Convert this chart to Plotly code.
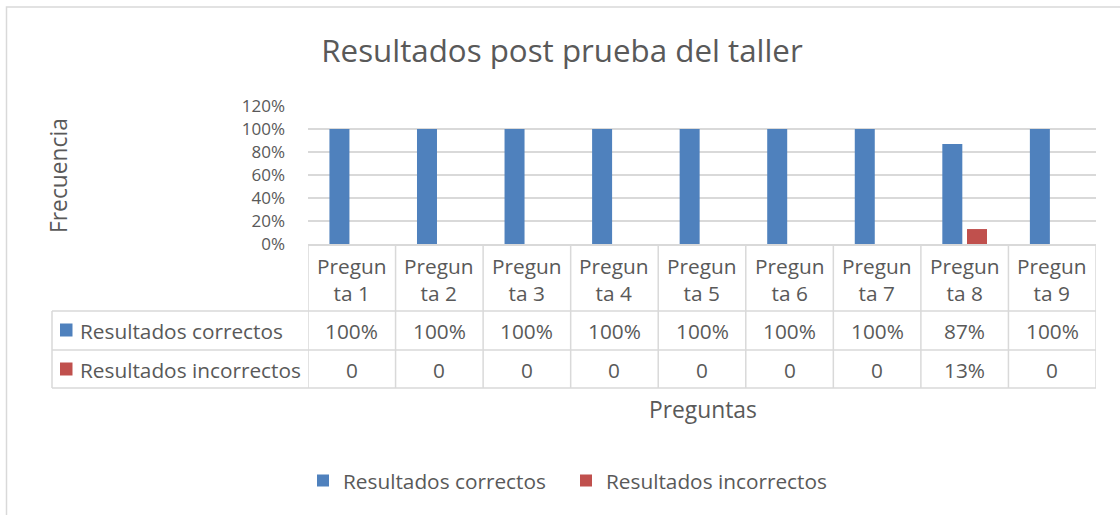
import plotly.graph_objects as go

# ---- data ----
categories = ["Pregunta 1", "Pregunta 2", "Pregunta 3", "Pregunta 4", "Pregunta 5",
              "Pregunta 6", "Pregunta 7", "Pregunta 8", "Pregunta 9"]
series_names = ["Resultados correctos", "Resultados incorrectos"]
correctos = [1.00, 1.00, 1.00, 1.00, 1.00, 1.00, 1.00, 0.87, 1.00]
incorrectos = [0, 0, 0, 0, 0, 0, 0, 0.13, 0]
series_colors = ["#4F81BD", "#C0504D"]
title_text = "Resultados post prueba del taller"
x_title = "Preguntas"
y_title = "Frecuencia"

# ---- geometry (pixels) ----
W, H = 1120, 515
L, R, T, B = 308, 1096, 106, 244
FONT = "Open Sans"
TXT = "#595959"
GRID = "#D9D9D9"
FS = 20.8


def px(x):
    return (x - L) / (R - L)


def py(y):
    return (B - y) / (B - T)


fig = go.Figure()
for name, vals, col in zip(series_names, [correctos, incorrectos], series_colors):
    fig.add_trace(go.Bar(x=categories, y=vals, name=name, marker_color=col,
                         marker_line_width=0))

shapes = []
annotations = []

# outer chart border
shapes.append(dict(type="rect", xref="paper", yref="paper",
                   x0=px(6.5), x1=px(1140), y0=py(7), y1=py(540),
                   line=dict(color=GRID, width=1.5), layer="below"))

# data table rows
row_lines_y = [311, 350, 388]
for yy in row_lines_y:
    shapes.append(dict(type="line", xref="paper", yref="paper",
                       x0=px(52), x1=px(R), y0=py(yy), y1=py(yy),
                       line=dict(color=GRID, width=1.5)))
shapes.append(dict(type="line", xref="paper", yref="paper",
                   x0=px(52), x1=px(52), y0=py(311), y1=py(388),
                   line=dict(color=GRID, width=1.5)))
for i in range(len(categories) + 1):
    shapes.append(dict(type="line", xref="x", yref="paper",
                       x0=i - 0.5, x1=i - 0.5, y0=py(B), y1=py(388),
                       line=dict(color=GRID, width=1.5)))

# header labels (wrapped like the original)
for i, c in enumerate(categories):
    annotations.append(dict(xref="x", yref="paper", x=i, y=py(279),
                            text=c[:6] + "<br>" + c[6:], showarrow=False,
                            font=dict(family=FONT, size=FS, color=TXT),
                            xanchor="center", yanchor="middle"))


def fmt(v):
    return "0" if v == 0 else f"{v:.0%}"


row_centers = [330.5, 369.5]
for r, (name, vals, col) in enumerate(zip(series_names, [correctos, incorrectos], series_colors)):
    yc = row_centers[r]
    for i, v in enumerate(vals):
        annotations.append(dict(xref="x", yref="paper", x=i, y=py(yc),
                                text=fmt(v), showarrow=False,
                                font=dict(family=FONT, size=FS, color=TXT),
                                xanchor="center", yanchor="middle"))
    shapes.append(dict(type="rect", xref="paper", yref="paper",
                       x0=px(60), x1=px(72.5), y0=py(yc - 7), y1=py(yc + 6),
                       fillcolor=col, line=dict(width=0)))
    annotations.append(dict(xref="paper", yref="paper", x=px(78), y=py(yc),
                            text=name, showarrow=False,
                            font=dict(family=FONT, size=FS, color=TXT),
                            xanchor="left", yanchor="middle"))

# axis titles
annotations.append(dict(xref="paper", yref="paper", x=px(702.5), y=py(409),
                        text=x_title, showarrow=False,
                        font=dict(family=FONT, size=22.8, color=TXT),
                        xanchor="center", yanchor="middle"))
annotations.append(dict(xref="paper", yref="paper", x=px(58), y=py(176),
                        text=y_title, showarrow=False, textangle=-90,
                        font=dict(family=FONT, size=22.8, color=TXT),
                        xanchor="center", yanchor="middle"))

fig.update_layout(
    width=W, height=H,
    margin=dict(l=L, r=W - R, t=T, b=H - B, pad=0),
    paper_bgcolor="white", plot_bgcolor="white",
    font=dict(family=FONT, color=TXT),
    title=dict(text=title_text, x=562 / W, xref="container", xanchor="center",
               y=1 - 51 / H, yref="container", yanchor="middle",
               font=dict(family=FONT, size=31.3, color=TXT)),
    barmode="group", bargap=0.436, bargroupgap=0.19,
    showlegend=True,
    legend=dict(orientation="h", x=px(303), y=py(481), xanchor="left",
                yanchor="middle", font=dict(family=FONT, size=FS, color=TXT),
                entrywidth=218, entrywidthmode="pixels", bgcolor="rgba(0,0,0,0)"),
    shapes=shapes, annotations=annotations,
)
fig.update_xaxes(showticklabels=False, showgrid=False, showline=True,
                 linecolor=GRID, linewidth=1.5, ticks="", zeroline=False,
                 range=[-0.5, len(categories) - 0.5])
fig.update_yaxes(range=[0, 1.2], dtick=0.2, tickformat=".0%", showgrid=True,
                 gridcolor=GRID, gridwidth=1.5, zeroline=False, showline=False,
                 ticks="", ticklabelstandoff=22,
                 tickfont=dict(family=FONT, size=17, color=TXT))

fig.write_html("out.html", config={"displayModeBar": False},
               post_script="document.body.style.margin='0';document.body.style.overflow='hidden';")
